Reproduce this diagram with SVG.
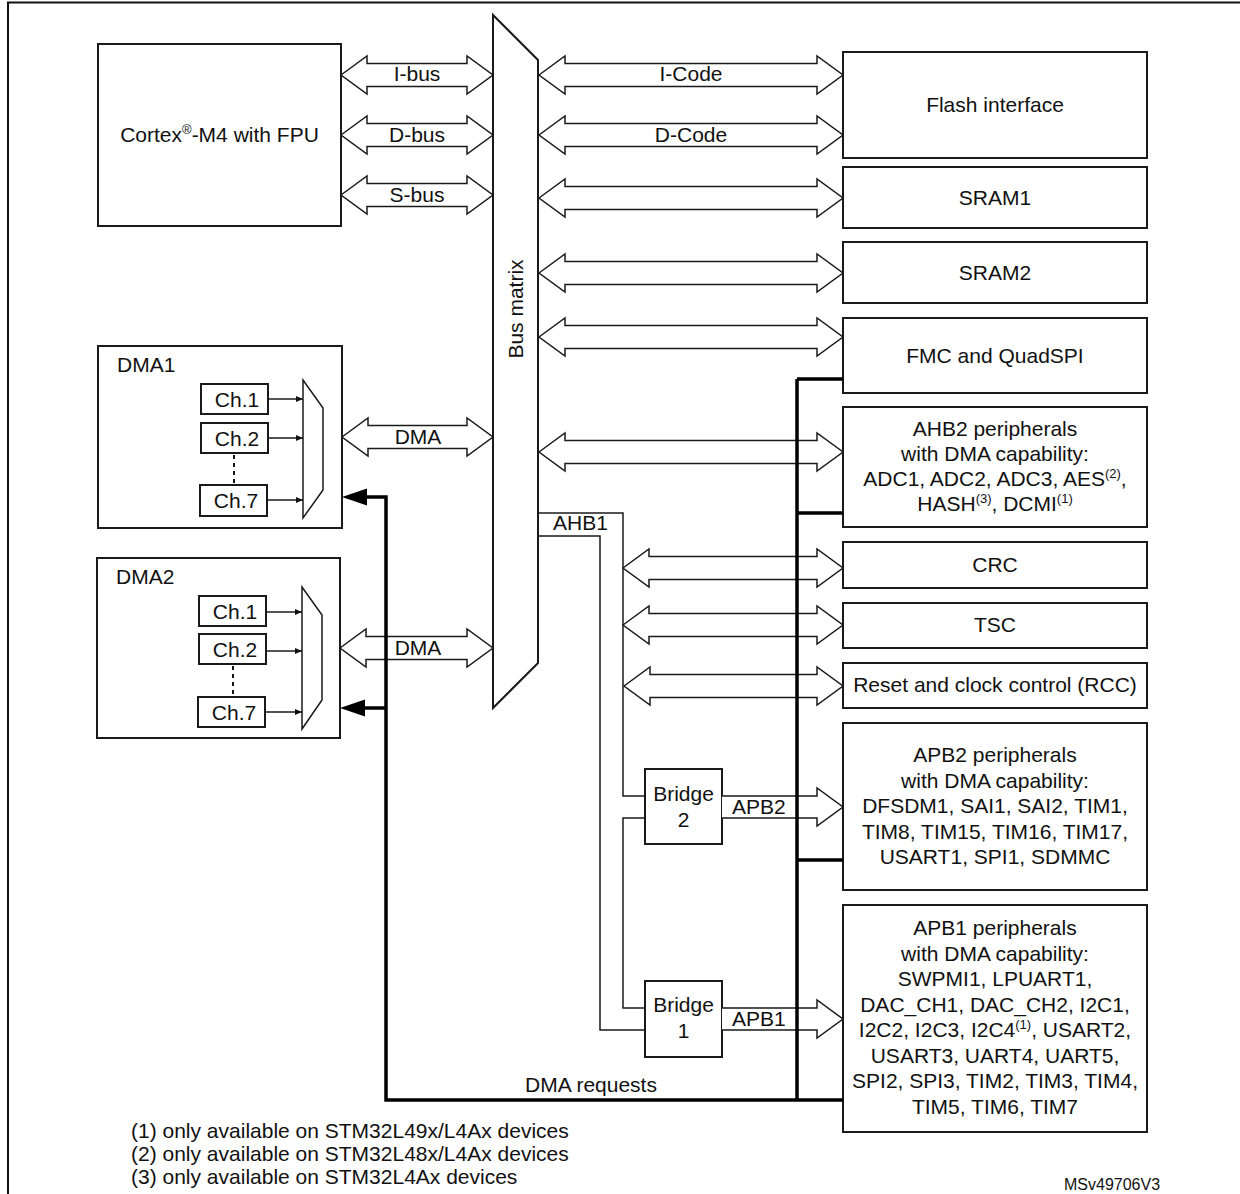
<svg xmlns="http://www.w3.org/2000/svg" width="1240" height="1194" viewBox="0 0 1240 1194">
<style>
text{font-family:"Liberation Sans",Arial,sans-serif;font-size:21px;fill:#111}
.c{text-anchor:middle}
.box{fill:#fff;stroke:#1a1a1a;stroke-width:2}
.arr{fill:#fff;stroke:#1a1a1a;stroke-width:1.5;stroke-linejoin:miter}
.thin{fill:none;stroke:#1a1a1a;stroke-width:1.5}
.thick{fill:none;stroke:#000;stroke-width:3.5}
.head{fill:#000;stroke:none}
.sup{font-size:13px}
.dot{fill:none;stroke:#111;stroke-width:2;stroke-dasharray:4,4}
</style>
<defs>
<marker id="sm" markerWidth="8" markerHeight="8" refX="7" refY="4" orient="auto" markerUnits="userSpaceOnUse">
<path d="M0,1 L7,4 L0,7 Z" fill="#111"/>
</marker>
</defs>
<rect width="1240" height="1194" fill="#fff"/>
<path d="M8,1194 L8,2.5 L1240,2.5" fill="none" stroke="#111" stroke-width="2"/>

<g id="cortex">
<rect class="box" x="98" y="44" width="243" height="182"/>
<text x="219.5" y="141.5" class="c">Cortex<tspan class="sup" dy="-8">®</tspan><tspan dy="8">-M4 with FPU</tspan></text>
</g>

<g id="busmatrix">
<polygon points="493,15 538,60 538,663 493,708" fill="#fff" stroke="#1a1a1a" stroke-width="2"/>
<text x="523" y="309" class="c" transform="rotate(-90 523 309)">Bus matrix</text>
</g>

<g id="dma1">
<rect class="box" x="98" y="346" width="244" height="182"/>
<text x="117" y="372">DMA1</text>
<rect class="box" x="201" y="384" width="67" height="30"/>
<text x="237" y="406.5" class="c">Ch.1</text>
<rect class="box" x="201" y="423" width="67" height="30"/>
<text x="237" y="445.5" class="c">Ch.2</text>
<rect class="box" x="200" y="485" width="67" height="31"/>
<text x="236" y="508" class="c">Ch.7</text>
<polygon points="303,380 323,408 323,490 303,518" fill="#fff" stroke="#1a1a1a" stroke-width="1.5"/>
<path class="dot" d="M234,455 L234,485"/>
<path class="thin" marker-end="url(#sm)" d="M268,399 L303,399"/>
<path class="thin" marker-end="url(#sm)" d="M268,438 L303,438"/>
<path class="thin" marker-end="url(#sm)" d="M267,500 L303,500"/>
</g>

<g id="dma2">
<rect class="box" x="97" y="558" width="243" height="180"/>
<text x="116" y="584">DMA2</text>
<rect class="box" x="199" y="596" width="67" height="30"/>
<text x="235" y="618.5" class="c">Ch.1</text>
<rect class="box" x="199" y="634" width="67" height="30"/>
<text x="235" y="656.5" class="c">Ch.2</text>
<rect class="box" x="198" y="697" width="67" height="30"/>
<text x="234" y="719.5" class="c">Ch.7</text>
<polygon points="302,587 322,615 322,700 302,729" fill="#fff" stroke="#1a1a1a" stroke-width="1.5"/>
<path class="dot" d="M233,666 L233,697"/>
<path class="thin" marker-end="url(#sm)" d="M266,612 L302,612"/>
<path class="thin" marker-end="url(#sm)" d="M266,651 L302,651"/>
<path class="thin" marker-end="url(#sm)" d="M265,712 L302,712"/>
</g>

<g id="flash">
<rect class="box" x="843" y="52" width="304" height="106"/>
<text x="995" y="112" class="c">Flash interface</text>
</g>
<g id="sram1">
<rect class="box" x="843" y="167" width="304" height="61"/>
<text x="995" y="205" class="c">SRAM1</text>
</g>
<g id="sram2">
<rect class="box" x="843" y="242" width="304" height="61"/>
<text x="995" y="280" class="c">SRAM2</text>
</g>
<g id="fmc">
<rect class="box" x="843" y="318" width="304" height="75"/>
<text x="995" y="363" class="c">FMC and QuadSPI</text>
</g>
<g id="ahb2">
<rect class="box" x="843" y="407" width="304" height="120"/>
<text x="995" y="436" class="c">AHB2 peripherals</text>
<text x="995" y="461" class="c">with DMA capability:</text>
<text x="995" y="486" class="c">ADC1, ADC2, ADC3, AES<tspan class="sup" dy="-8">(2)</tspan><tspan dy="8">,</tspan></text>
<text x="995" y="511" class="c">HASH<tspan class="sup" dy="-8">(3)</tspan><tspan dy="8">, DCMI</tspan><tspan class="sup" dy="-8">(1)</tspan></text>
</g>
<g id="crc">
<rect class="box" x="843" y="542" width="304" height="46"/>
<text x="995" y="572" class="c">CRC</text>
</g>
<g id="tsc">
<rect class="box" x="843" y="603" width="304" height="45"/>
<text x="995" y="632" class="c">TSC</text>
</g>
<g id="rcc">
<rect class="box" x="843" y="663" width="304" height="45"/>
<text x="995" y="692" class="c">Reset and clock control (RCC)</text>
</g>
<g id="bridge2">
<rect class="box" x="645" y="769" width="77" height="75"/>
<text x="683.5" y="801" class="c">Bridge</text>
<text x="683.5" y="827" class="c">2</text>
</g>
<g id="bridge1">
<rect class="box" x="645" y="981" width="77" height="76"/>
<text x="683.5" y="1012" class="c">Bridge</text>
<text x="683.5" y="1038" class="c">1</text>
</g>
<g id="apb2">
<rect class="box" x="843" y="723" width="304" height="167"/>
<text x="995" y="762" class="c">APB2 peripherals</text>
<text x="995" y="787.5" class="c">with DMA capability:</text>
<text x="995" y="813" class="c">DFSDM1, SAI1, SAI2, TIM1,</text>
<text x="995" y="838.5" class="c">TIM8, TIM15, TIM16, TIM17,</text>
<text x="995" y="864" class="c">USART1, SPI1, SDMMC</text>
</g>
<g id="apb1">
<rect class="box" x="843" y="905" width="304" height="227"/>
<text x="995" y="935" class="c">APB1 peripherals</text>
<text x="995" y="960.5" class="c">with DMA capability:</text>
<text x="995" y="986" class="c">SWPMI1, LPUART1,</text>
<text x="995" y="1011.5" class="c">DAC_CH1, DAC_CH2, I2C1,</text>
<text x="995" y="1037" class="c">I2C2, I2C3, I2C4<tspan class="sup" dy="-8">(1)</tspan><tspan dy="8">, USART2,</tspan></text>
<text x="995" y="1062.5" class="c">USART3, UART4, UART5,</text>
<text x="995" y="1088" class="c">SPI2, SPI3, TIM2, TIM3, TIM4,</text>
<text x="995" y="1113.5" class="c">TIM5, TIM6, TIM7</text>
</g>

<g id="connectors">
<path class="arr" d="M341,75 L367,56 L367,63.5 L467,63.5 L467,56 L493,75 L467,94 L467,86.5 L367,86.5 L367,94 Z"/>
<path class="arr" d="M341,135 L367,116 L367,123.5 L467,123.5 L467,116 L493,135 L467,154 L467,146.5 L367,146.5 L367,154 Z"/>
<path class="arr" d="M341,195 L367,176 L367,183.5 L467,183.5 L467,176 L493,195 L467,214 L467,206.5 L367,206.5 L367,214 Z"/>
<path class="arr" d="M342,437 L368,418 L368,425.5 L467,425.5 L467,418 L493,437 L467,456 L467,448.5 L368,448.5 L368,456 Z"/>
<path class="arr" d="M340,648 L366,629 L366,636.5 L467,636.5 L467,629 L493,648 L467,667 L467,659.5 L366,659.5 L366,667 Z"/>
<path class="arr" d="M539,75 L565,56 L565,63.5 L817,63.5 L817,56 L843,75 L817,94 L817,86.5 L565,86.5 L565,94 Z"/>
<path class="arr" d="M539,135 L565,116 L565,123.5 L817,123.5 L817,116 L843,135 L817,154 L817,146.5 L565,146.5 L565,154 Z"/>
<path class="arr" d="M539,198 L565,179 L565,186.5 L817,186.5 L817,179 L843,198 L817,217 L817,209.5 L565,209.5 L565,217 Z"/>
<path class="arr" d="M539,273 L565,254 L565,261.5 L817,261.5 L817,254 L843,273 L817,292 L817,284.5 L565,284.5 L565,292 Z"/>
<path class="arr" d="M539,337 L565,318 L565,325.5 L817,325.5 L817,318 L843,337 L817,356 L817,348.5 L565,348.5 L565,356 Z"/>
<path class="arr" d="M539,452 L565,433 L565,440.5 L817,440.5 L817,433 L843,452 L817,471 L817,463.5 L565,463.5 L565,471 Z"/>
<path class="arr" d="M623,568 L649,549 L649,556.5 L817,556.5 L817,549 L843,568 L817,587 L817,579.5 L649,579.5 L649,587 Z"/>
<path class="arr" d="M623,625 L649,606 L649,613.5 L817,613.5 L817,606 L843,625 L817,644 L817,636.5 L649,636.5 L649,644 Z"/>
<path class="arr" d="M624,686 L650,667 L650,674.5 L817,674.5 L817,667 L843,686 L817,705 L817,697.5 L650,697.5 L650,705 Z"/>
<path class="arr" d="M722,796 L817,796 L817,788 L843,807 L817,826 L817,818 L722,818"/>
<path class="arr" d="M722,1008 L817,1008 L817,1000 L843,1019 L817,1038 L817,1030 L722,1030"/>
<path class="thin" d="M538,513 L623,513 L623,796 L645,796"/>
<path class="thin" d="M538,536 L600,536 L600,1030 L645,1030"/>
<path class="thin" d="M645,818 L623,818 L623,1008 L645,1008"/>
<path class="thick" d="M797,379 L797,1100"/>
<path class="thick" d="M797,379 L843,379 M797,513 L843,513 M797,860 L843,860"/>
<path class="thick" d="M843,1100 L386,1100 L386,497 L366,497"/>
<path class="thick" d="M386,708 L364,708"/>
<polygon class="head" points="342,497 367,488.5 367,505.5"/>
<polygon class="head" points="340,708 365,699.5 365,716.5"/>
<text x="417" y="81" class="c">I-bus</text>
<text x="417" y="141.5" class="c">D-bus</text>
<text x="417" y="201.5" class="c">S-bus</text>
<text x="418" y="443.5" class="c">DMA</text>
<text x="418" y="654.5" class="c">DMA</text>
<text x="691" y="81" class="c">I-Code</text>
<text x="691" y="141.5" class="c">D-Code</text>
<text x="553" y="530">AHB1</text>
<text x="732" y="814">APB2</text>
<text x="732" y="1026">APB1</text>
<text x="591" y="1092" class="c">DMA requests</text>
</g>

<g id="notes">
<text x="131" y="1138">(1) only available on STM32L49x/L4Ax devices</text>
<text x="131" y="1161">(2) only available on STM32L48x/L4Ax devices</text>
<text x="131" y="1184">(3) only available on STM32L4Ax devices</text>
<text x="1064" y="1190" style="font-size:16px">MSv49706V3</text>
</g>
</svg>
